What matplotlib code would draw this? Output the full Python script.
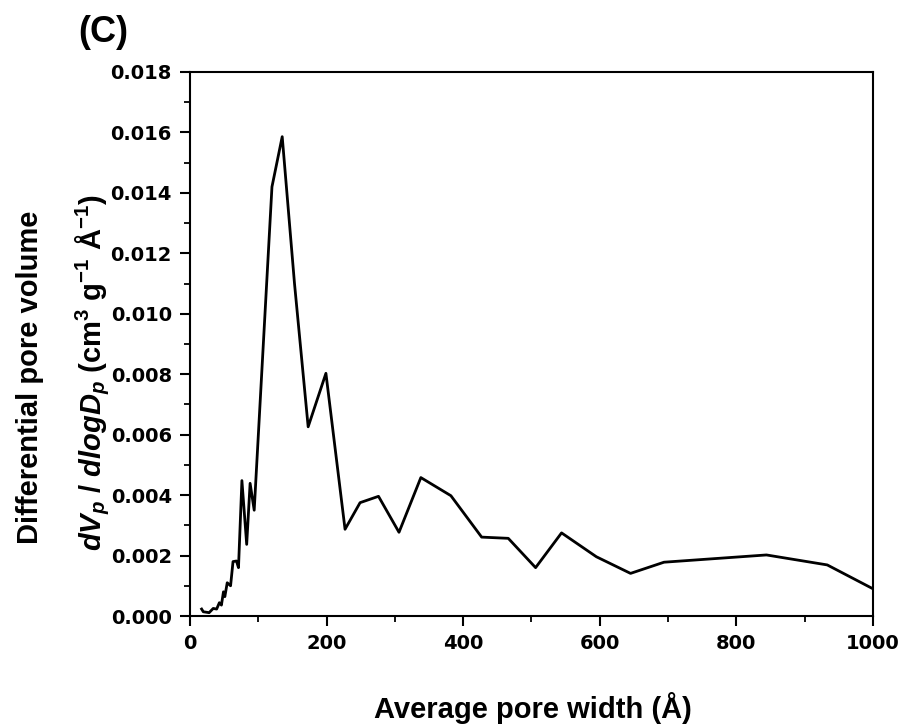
import matplotlib
matplotlib.use("Agg")
import matplotlib.pyplot as plt
from matplotlib.ticker import MultipleLocator, FormatStrFormatter

# pore size distribution
pore_width = [17, 19.5, 28, 34, 39, 43, 46, 49, 51, 54.5, 59.4, 63, 68, 71, 76, 83, 88, 94,
              120, 135, 153, 173, 199, 227, 249, 276, 306, 338, 382, 427, 466, 506, 544,
              595, 645, 694, 844, 933, 1000]
dv_dlogd = [0.00023, 0.00014, 0.00011, 0.00025, 0.00023, 0.00044, 0.00036, 0.0008, 0.00064,
            0.0011, 0.0010, 0.0018, 0.00182, 0.0016, 0.00448, 0.00237, 0.00439, 0.0035,
            0.0142, 0.01586, 0.0110, 0.00626, 0.00803, 0.00287, 0.00375, 0.00396, 0.00277,
            0.00458, 0.00398, 0.00261, 0.00257, 0.0016, 0.00275, 0.00196, 0.00141, 0.00178,
            0.00202, 0.00169, 0.0009]

plt.rcParams['mathtext.fontset'] = 'custom'
plt.rcParams['mathtext.rm'] = 'Liberation Sans:bold'
plt.rcParams['mathtext.it'] = 'Liberation Sans:bold:italic'
plt.rcParams['mathtext.bf'] = 'Liberation Sans:bold'

W, H = 903, 727
fig = plt.figure(figsize=(W / 100, H / 100), dpi=100)
ax = fig.add_axes([190 / W, 1 - 616 / H, (873 - 190) / W, (616 - 72) / H])

ax.plot(pore_width, dv_dlogd, color='black', lw=2)

ax.set_xlim(0, 1000)
ax.set_ylim(0, 0.018)
ax.xaxis.set_major_locator(MultipleLocator(200))
ax.xaxis.set_minor_locator(MultipleLocator(100))
ax.yaxis.set_major_locator(MultipleLocator(0.002))
ax.yaxis.set_minor_locator(MultipleLocator(0.001))
ax.yaxis.set_major_formatter(FormatStrFormatter('%.3f'))

for s in ax.spines.values():
    s.set_linewidth(1.5)
ax.tick_params(which='major', direction='out', length=7, width=1.5, pad=6)
ax.tick_params(which='minor', direction='out', length=4.5, width=1.3)
for lab in ax.get_xticklabels() + ax.get_yticklabels():
    lab.set_fontfamily('DejaVu Sans')
    lab.set_fontweight('bold')
    lab.set_fontsize(14)

fig.text(103 / W, 1 - 32 / H, '(C)', ha='center', va='center',
         fontsize=26, fontweight='bold', family='Liberation Sans')
fig.text(533 / W, 1 - 708 / H, 'Average pore width (Å)', ha='center', va='center',
         fontsize=21, fontweight='bold', family='Liberation Sans')
fig.text(30 / W, 1 - 377 / H, 'Differential pore volume', ha='center', va='center',
         rotation=90, fontsize=21, fontweight='bold', family='Liberation Sans')
fig.text(93 / W, 1 - 373 / H,
         r'$dV_{p}$ / $dlogD_{p}$ (cm$^{3}$ g$^{-1}$ Å$^{-1}$)',
         ha='center', va='center', rotation=90, fontsize=21, fontweight='bold',
         family='Liberation Sans')

fig.savefig('out.png', dpi=100)
